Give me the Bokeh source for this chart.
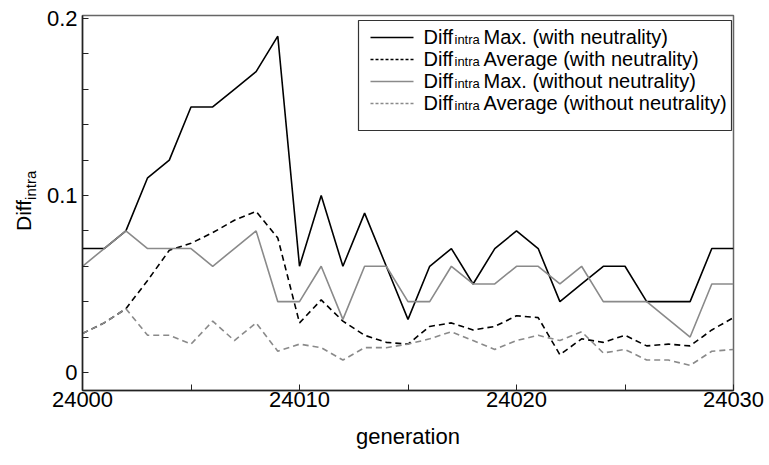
from bokeh.plotting import figure
from bokeh.models import Range1d, FixedTicker, Label, BoxAnnotation, Arrow, Div
from bokeh.layouts import row
from bokeh.embed import file_html
from bokeh.resources import INLINE

# ---------------- data ----------------
generation = list(range(24000, 24031))
max_with = [0.07, 0.07, 0.08, 0.11, 0.12, 0.15, 0.15, 0.16, 0.17, 0.19,
            0.06, 0.10, 0.06, 0.09, 0.06, 0.03, 0.06, 0.07, 0.05, 0.07,
            0.08, 0.07, 0.04, 0.05, 0.06, 0.06, 0.04, 0.04, 0.04, 0.07, 0.07]
avg_with = [0.022, 0.028, 0.036, 0.052, 0.069, 0.073, 0.079, 0.086, 0.091, 0.076,
            0.028, 0.041, 0.029, 0.021, 0.017, 0.016, 0.026, 0.028, 0.024, 0.026,
            0.032, 0.031, 0.010, 0.019, 0.017, 0.021, 0.015, 0.016, 0.015, 0.024, 0.031]
max_without = [0.06, 0.07, 0.08, 0.07, 0.07, 0.07, 0.06, 0.07, 0.08, 0.04,
               0.04, 0.06, 0.03, 0.06, 0.06, 0.04, 0.04, 0.06, 0.05, 0.05,
               0.06, 0.06, 0.05, 0.06, 0.04, 0.04, 0.04, 0.03, 0.02, 0.05, 0.05]
avg_without = [0.022, 0.028, 0.036, 0.021, 0.021, 0.016, 0.029, 0.018, 0.028, 0.012,
               0.016, 0.014, 0.007, 0.014, 0.014, 0.016, 0.019, 0.023, 0.018, 0.013,
               0.018, 0.021, 0.018, 0.023, 0.011, 0.013, 0.007, 0.007, 0.004, 0.012, 0.013]

x_ticks = [24000, 24010, 24020, 24030]
x_minor = [24005, 24015, 24025]
y_ticks = [0, 0.1, 0.2]
y_tick_labels = ["0", "0.1", "0.2"]
y_minor = [0.02, 0.04, 0.06, 0.08, 0.12, 0.14, 0.16, 0.18]

label_main = "Diff"
label_sub = "intra"
x_label = "generation"
legend_texts = ["Max. (with neutrality)", "Average (with neutrality)",
                "Max. (without neutrality)", "Average (without neutrality)"]

FONT = "Liberation Sans"
BLACK = "#000000"
GRAY = "#8a8a8a"
DASH = "6 4"
LEFT_W = 40

# ---------------- y-axis label (rotated HTML text with subscript) ----------------
ylab = Div(width=LEFT_W, height=465, margin=(0, 0, 0, 0), text=(
    '<div style="position:relative;width:%dpx;height:465px;">'
    '<span style="position:absolute;left:13px;top:231px;transform-origin:0 0;'
    'transform:rotate(-90deg);white-space:nowrap;font-family:\'%s\';font-size:21px;'
    'line-height:1;color:#000;">%s<sub style="font-size:15px;">%s</sub></span></div>'
) % (LEFT_W, FONT, label_main, label_sub))

# ---------------- figure ----------------
p = figure(width=769 - LEFT_W, height=465,
           x_range=Range1d(24000, 24030), y_range=Range1d(-0.0102, 0.2017),
           output_backend="svg", toolbar_location=None,
           min_border_left=82 - LEFT_W, min_border_right=36,
           min_border_top=15, min_border_bottom=75, margin=(0, 0, 0, 0))
p.xgrid.visible = False
p.ygrid.visible = False
p.outline_line_color = "#666666"
p.outline_line_width = 1.5
p.background_fill_color = "white"
p.border_fill_color = "white"

styles = [(max_with, BLACK, "solid"), (avg_with, BLACK, DASH),
          (max_without, GRAY, "solid"), (avg_without, GRAY, DASH)]
for ys, col, dash in styles:
    p.line(generation, ys, line_color=col, line_width=1.6, line_dash=dash)

for ax in (p.xaxis[0], p.yaxis[0]):
    ax.axis_line_color = "#222222"
    ax.axis_line_width = 1.5
    ax.major_tick_in = 6
    ax.major_tick_out = 0
    ax.minor_tick_in = 6
    ax.minor_tick_out = 0
    ax.major_tick_line_color = "#222222"
    ax.minor_tick_line_color = "#222222"
    ax.major_label_text_font = FONT
    ax.major_label_text_font_size = "22px"
    ax.major_label_text_color = "black"

p.xaxis.ticker = FixedTicker(ticks=x_ticks, minor_ticks=x_minor)
p.yaxis.ticker = FixedTicker(ticks=y_ticks, minor_ticks=y_minor)
p.yaxis.major_label_overrides = {t: s for t, s in zip(y_ticks, y_tick_labels)}
p.xaxis.major_label_standoff = 1
p.yaxis.major_label_standoff = 5
p.xaxis.axis_label = x_label
p.xaxis.axis_label_text_font = FONT
p.xaxis.axis_label_text_font_size = "22px"
p.xaxis.axis_label_text_font_style = "normal"
p.xaxis.axis_label_text_color = "black"
p.xaxis.axis_label_standoff = 14

# ---------------- legend (screen units relative to the plot frame) ----------------
p.add_layout(BoxAnnotation(left=276, right=649, bottom=260, top=370,
                           left_units="screen", right_units="screen",
                           bottom_units="screen", top_units="screen",
                           fill_color="white", fill_alpha=1.0,
                           line_color="#333333", line_width=1.2, line_alpha=1.0))
row_y = [353, 331, 309, 287]
for (ys, col, dash), txt, ry in zip(styles, legend_texts, row_y):
    ldash = "solid" if dash == "solid" else "3 2"
    p.add_layout(Arrow(end=None, x_start=288, y_start=ry, x_end=331, y_end=ry,
                       start_units="screen", end_units="screen",
                       line_color=col, line_width=1.3, line_dash=ldash))
    p.add_layout(Label(x=341, y=ry + 1, x_units="screen", y_units="screen", text=label_main,
                       text_align="left", text_baseline="alphabetic",
                       text_font=FONT, text_font_size="20px", text_color="black"))
    p.add_layout(Label(x=372, y=ry - 2, x_units="screen", y_units="screen", text=label_sub,
                       text_align="left", text_baseline="alphabetic",
                       text_font=FONT, text_font_size="13px", text_color="black"))
    p.add_layout(Label(x=401, y=ry + 1, x_units="screen", y_units="screen", text=txt,
                       text_align="left", text_baseline="alphabetic",
                       text_font=FONT, text_font_size="20px", text_color="black"))

layout = row(ylab, p, margin=(0, 0, 0, 0))
open("out.html", "w").write(file_html(layout, INLINE))
